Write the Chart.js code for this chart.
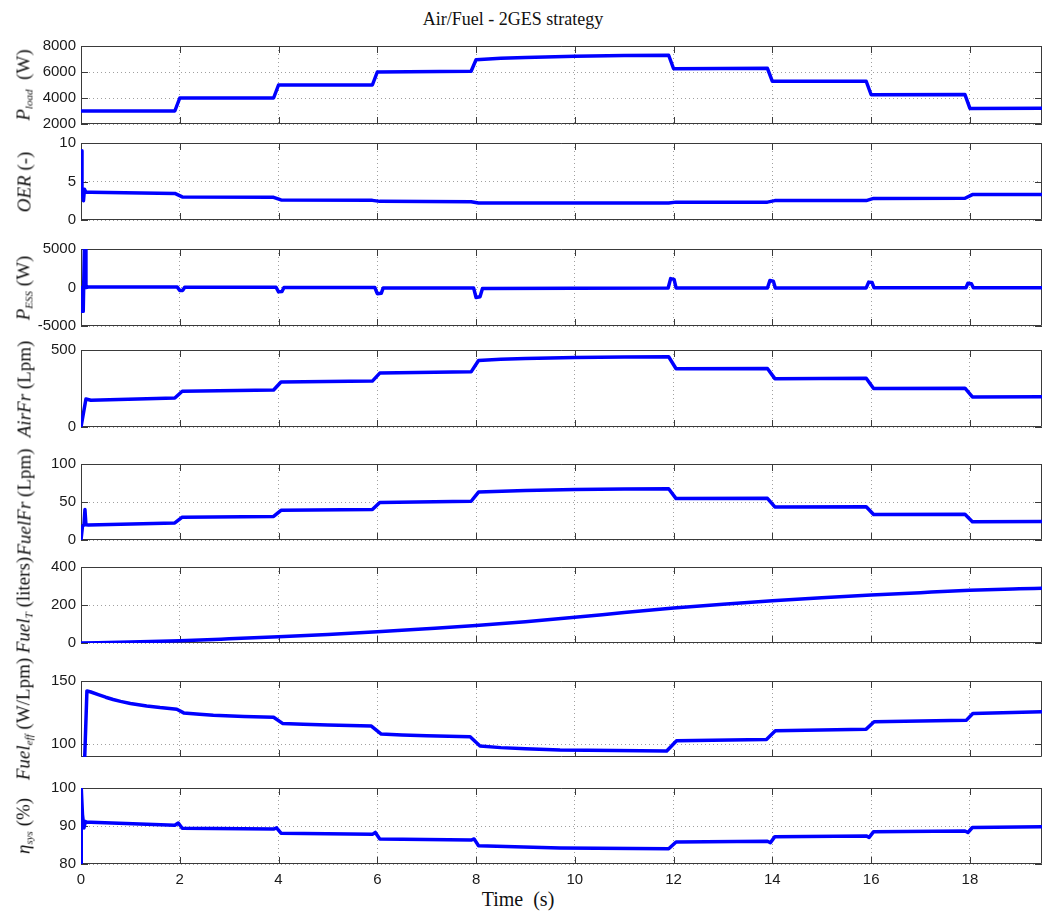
<!DOCTYPE html>
<html><head><meta charset="utf-8">
<script src="https://cdn.jsdelivr.net/npm/chart.js@4.4.0/dist/chart.umd.min.js"></script>
<style>
html,body{margin:0;padding:0;background:#fff;}
body{width:1042px;height:913px;overflow:hidden;position:relative;}
canvas{position:absolute;left:0;}
.yl{position:absolute;transform:translate(-50%,-50%) rotate(-90deg);white-space:nowrap;font-family:"Liberation Serif","Times New Roman",serif;font-size:19px;color:#111;line-height:1;}
.yl sub{font-size:11px;vertical-align:-3px;}
.tt{position:absolute;transform:translate(-50%,-50%);white-space:nowrap;font-family:"Liberation Serif","Times New Roman",serif;color:#111;}
</style></head><body>
<div class="tt" style="left:513px;top:19px;font-size:18px;">Air/Fuel - 2GES strategy</div>
<div class="tt" style="left:518px;top:899px;font-size:20px;">Time&nbsp;&nbsp;(s)</div>
<script>
// ---------- DATA ----------
const xTicks = [0, 2, 4, 6, 8, 10, 12, 14, 16, 18];
const xMax = 19.46;

const tLoad = [0, 1.9, 2.0, 3.9, 4.0, 5.9, 6.0, 7.9, 8.0, 8.5, 9, 10, 11, 11.9, 12.0, 13.9, 14.0, 15.9, 16.0, 17.9, 18.0, 19.46];
const pLoad = [3000, 3000, 4000, 4000, 5000, 5000, 6000, 6060, 6950, 7050, 7120, 7220, 7270, 7290, 6250, 6280, 5280, 5290, 4250, 4260, 3200, 3210];

const tOER = [0, 0.02, 0.05, 0.07, 0.1, 0.2, 1.9, 2.05, 3.9, 4.05, 5.9, 6.05, 7.9, 8.05, 11.9, 12.05, 13.9, 14.05, 15.9, 16.05, 17.9, 18.05, 19.46];
const oer  = [9.0, 3.5, 2.5, 4.0, 3.6, 3.6, 3.45, 3.0, 2.95, 2.6, 2.55, 2.42, 2.38, 2.22, 2.2, 2.32, 2.32, 2.52, 2.52, 2.8, 2.82, 3.3, 3.32];

const tESS = [0, 0.005, 0.015, 0.025, 0.035, 0.045, 0.06, 0.07, 0.09, 0.1, 0.15, 1.95, 2.0, 2.06, 2.1, 3.95, 4.0, 4.07, 4.11, 5.95, 6.0, 6.08, 6.12, 7.95, 8.0, 8.08, 8.13, 11.89, 11.94, 12.01, 12.05, 13.9, 13.95, 14.02, 14.06, 15.9, 15.95, 16.02, 16.06, 17.92, 17.96, 18.03, 18.07, 19.46];
const pESS = [0, -3100, 0, -3100, 0, -3100, -3100, 5600, 5600, 0, 60, 50, -400, -380, 30, 30, -560, -520, 0, 0, -800, -760, -50, -50, -1300, -1200, -120, -60, 1150, 1050, -60, -60, 900, 820, -50, -50, 700, 640, -40, -40, 560, 500, -30, -20];

const tAir = [0, 0.1, 0.2, 1.9, 2.05, 3.9, 4.05, 5.9, 6.05, 7.9, 8.05, 8.5, 9, 10, 11, 11.9, 12.05, 13.9, 14.05, 15.9, 16.05, 17.9, 18.05, 19.46];
const airFr = [0, 182, 174, 188, 232, 240, 292, 298, 350, 358, 432, 440, 445, 452, 455, 456, 378, 380, 314, 316, 250, 252, 195, 196];

const tFuel = [0, 0.03, 0.06, 0.08, 0.1, 0.15, 1.9, 2.05, 3.9, 4.05, 5.9, 6.05, 7.9, 8.05, 9, 10, 11, 11.9, 12.05, 13.9, 14.05, 15.9, 16.05, 17.9, 18.05, 19.46];
const fuelFr = [0, 18, 20, 40, 20, 19.7, 22.5, 30, 31, 39, 40, 49.5, 51, 63, 65, 66.5, 67, 67.5, 54.5, 54.8, 43.5, 43.8, 33.5, 33.8, 24, 24.2];

const tFuelT = [0, 1, 2, 3, 4, 5, 6, 7, 8, 9, 10, 11, 12, 13, 14, 15, 16, 17, 18, 19, 19.46];
const fuelT  = [0, 5, 12, 22, 33, 45, 59, 75, 92, 112, 135, 160, 184, 204, 222, 238, 252, 265, 277, 285, 288];

const tEff = [0, 0.05, 0.12, 0.2, 0.35, 0.5, 0.65, 0.8, 1.0, 1.33, 1.6, 1.94, 2.08, 2.4, 2.68, 3.3, 3.9, 4.08, 4.5, 5.0, 5.88, 6.08, 6.5, 7.0, 7.88, 8.08, 8.5, 9.0, 9.7, 10.8, 11.86, 12.06, 13.88, 14.06, 15.9, 16.06, 17.93, 18.06, 19.46];
const fuelEff = [60, 60, 142.2, 141.3, 139.3, 137.2, 135.4, 133.9, 132.3, 130.3, 129.0, 127.7, 124.8, 123.8, 123.0, 122.0, 121.4, 116.5, 115.8, 115.3, 114.4, 108.1, 107.4, 106.8, 106.0, 98.7, 97.4, 96.5, 95.5, 95.1, 94.7, 102.8, 103.9, 110.7, 112.0, 117.8, 119.1, 124.4, 125.7];

const tEta = [0, 0.005, 0.03, 0.06, 0.09, 0.12, 0.2, 1.9, 1.97, 2.05, 3.9, 3.96, 4.05, 5.9, 5.96, 6.05, 7.9, 7.96, 8.05, 9.7, 11.9, 12.05, 13.9, 13.96, 14.05, 15.9, 15.96, 16.05, 17.9, 17.96, 18.05, 19.46];
const eta  = [80, 100, 93, 89.5, 91.2, 91.0, 91.0, 90.2, 90.8, 89.4, 89.2, 89.5, 88.1, 87.8, 88.3, 86.6, 86.3, 86.6, 84.8, 84.2, 84.0, 85.8, 86.0, 85.6, 87.2, 87.4, 87.0, 88.5, 88.7, 88.3, 89.6, 89.8];

const yTicks = [
  [2000, 4000, 6000, 8000],
  [0, 5, 10],
  [-5000, 0, 5000],
  [0, 500],
  [0, 50, 100],
  [0, 200, 400],
  [100, 150],
  [80, 90, 100]
];
const yMin = [2000, 0, -5000, 0, 0, 0, 90, 80];
const yMax = [8000, 10, 5000, 500, 100, 400, 150, 100];
const yLabels = [
  '<i>P<sub>load</sub></i>&nbsp;&nbsp;(W)',
  '<i>OER</i> (-)',
  '<i>P<sub>ESS</sub></i> (W)',
  '<i>AirFr</i> (Lpm)',
  '<i>FuelFr</i> (Lpm)',
  '<i>Fuel<sub>T</sub></i> (liters)',
  '<i>Fuel<sub>eff</sub></i> (W/Lpm)',
  '<i>η<sub>sys</sub></i> (%)'
];
const seriesT = [tLoad, tOER, tESS, tAir, tFuel, tFuelT, tEff, tEta];
const seriesV = [pLoad, oer, pESS, airFr, fuelFr, fuelT, fuelEff, eta];
const smooth = [false, false, false, false, false, true, false, false];

// ---------- LAYOUT ----------
const boxTop = [46, 143, 249, 350, 464, 567, 681, 788];
const boxBot = [124, 220, 326, 427, 540, 643, 757, 864];
const LEFT = 81, W = 1042, PADT = 14, PADB = 14;

const boxPlugin = {
  id: 'boxTicks',
  beforeDatasetsDraw(chart) {
    const {ctx, chartArea: a, scales: {x, y}} = chart;
    ctx.save();
    ctx.strokeStyle = '#3a3a3a';
    ctx.lineWidth = 1;
    ctx.beginPath();
    ctx.rect(a.left + 0.5, a.top + 0.5, a.right - a.left - 1, a.bottom - a.top - 1);
    ctx.stroke();
    ctx.beginPath();
    x.ticks.forEach(t => {
      const p = Math.round(x.getPixelForValue(t.value)) + 0.5;
      ctx.moveTo(p, a.top); ctx.lineTo(p, a.top + 7);
      ctx.moveTo(p, a.bottom); ctx.lineTo(p, a.bottom - 7);
    });
    y.ticks.forEach(t => {
      const p = Math.round(y.getPixelForValue(t.value)) + 0.5;
      ctx.moveTo(a.left, p); ctx.lineTo(a.left + 7, p);
      ctx.moveTo(a.right, p); ctx.lineTo(a.right - 7, p);
    });
    ctx.stroke();
    ctx.restore();
  }
};

for (let i = 0; i < 8; i++) {
  const last = i === 7;
  const bh = boxBot[i] - boxTop[i];
  const xh = last ? 30 : 0;
  const pb = last ? 4 : PADB;
  const H = PADT + bh + xh + pb;
  const cv = document.createElement('canvas');
  cv.width = W; cv.height = H;
  cv.style.top = (boxTop[i] - PADT) + 'px';
  cv.style.width = W + 'px'; cv.style.height = H + 'px';
  document.body.appendChild(cv);

  const lab = document.createElement('div');
  lab.className = 'yl';
  lab.innerHTML = yLabels[i];
  lab.style.left = '24px';
  lab.style.top = ((boxTop[i] + boxBot[i]) / 2) + 'px';
  document.body.appendChild(lab);

  const pts = seriesT[i].map((t, k) => ({x: t, y: seriesV[i][k]}));
  const yt = yTicks[i];
  new Chart(cv, {
    type: 'line',
    data: {datasets: [{
      data: pts,
      borderColor: '#0000ff',
      borderWidth: 3.5,
      pointRadius: 0,
      tension: 0,
      cubicInterpolationMode: smooth[i] ? 'monotone' : 'default',
      borderJoinStyle: 'round',
      borderCapStyle: 'round'
    }]},
    options: {
      responsive: false,
      devicePixelRatio: 1,
      animation: false,
      layout: {padding: {top: PADT, right: 0, left: 0, bottom: pb}},
      plugins: {legend: {display: false}, tooltip: {enabled: false}, title: {display: false}},
      scales: {
        x: {
          type: 'linear', min: 0, max: xMax,
          afterBuildTicks: s => { s.ticks = xTicks.map(v => ({value: v})); },
          afterFit: s => { s.height = xh; },
          grid: {color: '#a0a0a0', lineWidth: 1, drawTicks: false},
          border: {display: false, dash: [1, 3]},
          ticks: {display: last, padding: 7, color: '#1a1a1a', font: {family: 'Liberation Sans, Arial, sans-serif', size: 15}, maxRotation: 0, autoSkip: false, callback: v => String(v)}
        },
        y: {
          type: 'linear', min: yMin[i], max: yMax[i],
          afterBuildTicks: s => { s.ticks = yt.map(v => ({value: v})); },
          afterFit: s => { s.width = LEFT; },
          grid: {color: '#a0a0a0', lineWidth: 1, drawTicks: false},
          border: {display: false, dash: [1, 3]},
          ticks: {padding: 5, color: '#1a1a1a', font: {family: 'Liberation Sans, Arial, sans-serif', size: 15}, autoSkip: false, callback: v => String(v)}
        }
      }
    },
    plugins: [boxPlugin]
  });
}
</script>
</body></html>
